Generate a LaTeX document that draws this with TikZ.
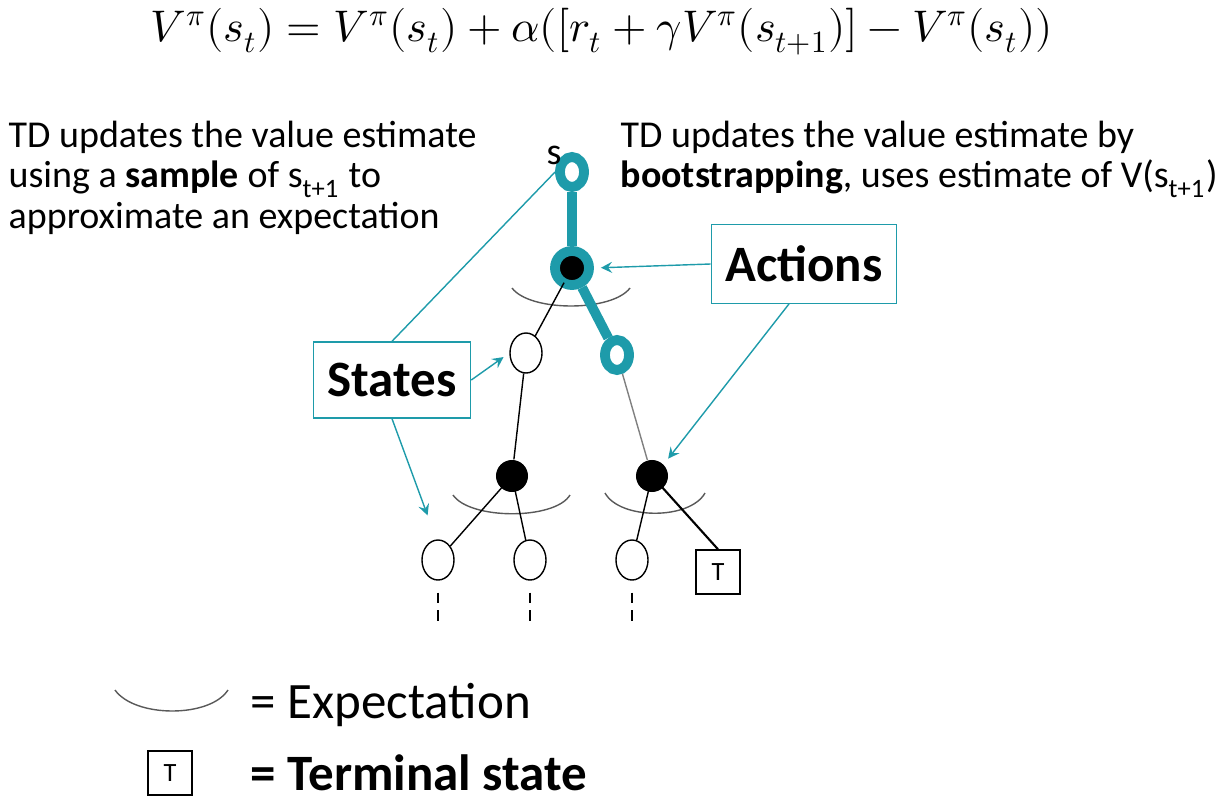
\documentclass[tikz,border=0pt]{standalone}
\usepackage{fontspec}
\setmainfont{Carlito}
\usepackage{unicode-math}
\setmathfont{Latin Modern Math}
\usetikzlibrary{shapes.geometric}
\definecolor{tdteal}{RGB}{30,155,170}
\begin{document}
\begin{tikzpicture}[x=0.01cm,y=-0.01cm,
    state/.style={draw,ellipse,minimum width=0.32cm,minimum height=0.4cm,inner sep=0pt,fill=white},
    hot/.style={draw=tdteal,line width=2.8pt},
    action/.style={circle,fill=black,minimum size=0.32cm,inner sep=0pt},
    term/.style={draw,minimum size=0.44cm,inner sep=0pt,font=\fontsize{7.5}{8}\selectfont},
    label/.style={draw=tdteal,fill=white,font=\fontsize{14.5}{16}\selectfont\bfseries,inner xsep=4pt,inner ysep=6pt},
    pointer/.style={tdteal,->,>=stealth,shorten >=2pt},
    expect/.style={gray!70!black,thin},
    txt/.style={font=\fontsize{10.8}{11.6}\selectfont,align=left,anchor=north west,inner sep=0pt}]
  \useasboundingbox (0,0) rectangle (1227,800);

  % equation
  \node (eq) at (602,32) {\fontsize{12.6}{15}\selectfont
    $V^{\pi}(s_t)=V^{\pi}(s_t)+\alpha([r_t+\gamma V^{\pi}(s_{t+1})]-V^{\pi}(s_t))$};

  % explanations
  \node[txt] (lefttxt) at (8,120) {TD updates the value estimate\\using a \textbf{sample} of s\textsubscript{t+1} to\\approximate an expectation};
  \node[txt] (righttxt) at (620,120) {TD updates the value estimate by\\\textbf{bootstrapping}, uses estimate of V(s\textsubscript{t+1})};

  % expectation arcs
  \draw[expect] (512,288) .. controls (530,312) and (612,312) .. (630,288);
  \draw[expect] (453,495) .. controls (470,520) and (555,520) .. (570,495);
  \draw[expect] (605,493) .. controls (620,520) and (690,520) .. (705,493);

  % tree
  \node[state,hot,minimum width=0.24cm,minimum height=0.3cm] (s0) at (572,172) {};
  \node at (554,155) {\fontsize{10.8}{12}\selectfont s};
  \node[action] (a0) at (572,268) {};
  \node[circle,hot,minimum size=0.34cm,inner sep=0pt] (a0r) at (572,268) {};
  \node[state] (s1) at (526,353) {};
  \node[state,hot,minimum width=0.24cm,minimum height=0.3cm] (s2) at (617,355) {};
  \node[action] (a1) at (512,476) {};
  \node[action] (a2) at (652,476) {};
  \node[state] (l1) at (438,560) {};
  \node[state] (l2) at (530,560) {};
  \node[state] (l3) at (632,560) {};
  \node[term] (t1) at (718,572) {T};

  \draw[hot] (s0) -- (a0r);
  \draw[hot] (a0r) -- (s2);
  \draw (a0) -- (s1);
  \draw (s1) -- (a1);
  \draw[gray] (s2) -- (a2);
  \draw (a1.center) -- (l1);
  \draw (a1.center) -- (l2);
  \draw (a2.center) -- (l3);
  \draw[semithick] (a2.center) -- (t1.north);
  \foreach \leaf in {l1,l2,l3}
    \draw[densely dashed] (\leaf.south) ++(0,12) -- ++(0,35);

  % labels
  \node[label] (actions) at (804,264) {Actions};
  \node[label] (states) at (392,380) {States};
  \draw[pointer] (actions.west) -- (a0r.east);
  \draw[pointer] (actions.south) ++(-15,0) -- (a2.north east);
  \draw[pointer] (states.east) -- (s1.west);
  \draw[tdteal] (states.north) -- (s0.west);
  \draw[pointer] (states.south) ++(0,0) -- (430,522);

  % legend
  \draw[expect] (115,690) .. controls (135,718) and (210,718) .. (228,690);
  \node[anchor=west,inner sep=0pt,font=\fontsize{14.5}{16}\selectfont] (lexp) at (250,705) {= Expectation};
  \node[term] (lt) at (170,773) {T};
  \node[anchor=west,inner sep=0pt,font=\fontsize{14.5}{16}\selectfont\bfseries] (lterm) at (250,773) {= Terminal state};
\end{tikzpicture}
\end{document}
